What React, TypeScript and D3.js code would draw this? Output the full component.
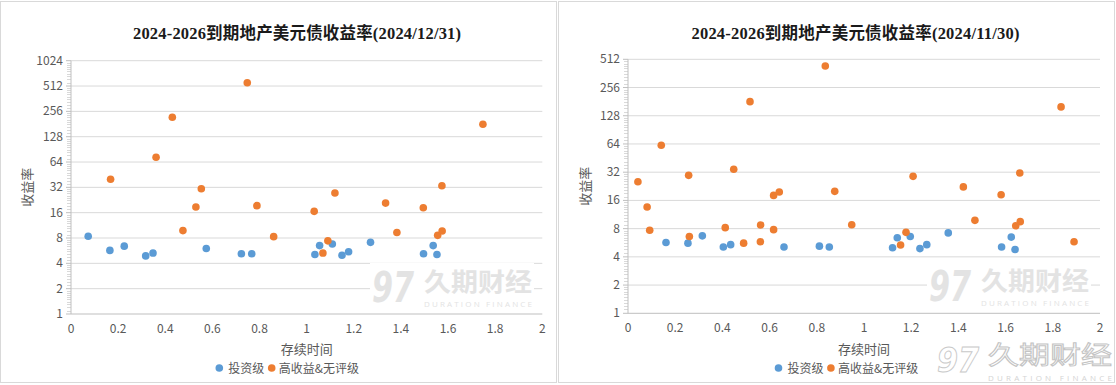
import React from "react";
import * as d3 from "d3";

// ---------- data ----------
const xTicks = [0, 0.2, 0.4, 0.6, 0.8, 1, 1.2, 1.4, 1.6, 1.8, 2];
const decYTicks = [1, 2, 4, 8, 16, 32, 64, 128, 256, 512, 1024];
const novYTicks = [1, 2, 4, 8, 16, 32, 64, 128, 256, 512];

const seriesNames = ["投资级", "高收益&无评级"];
const decTitle = "2024-2026到期地产美元债收益率(2024/12/31)";
const novTitle = "2024-2026到期地产美元债收益率(2024/11/30)";

// 2024/12/31
const decIGX = [0.073, 0.165, 0.226, 0.317, 0.348, 0.574, 0.723, 0.767, 1.035, 1.055, 1.109, 1.15, 1.178, 1.271, 1.496, 1.537, 1.553];
const decIGY = [8.4, 5.7, 6.4, 4.9, 5.3, 6.0, 5.2, 5.2, 5.1, 6.5, 6.8, 5.0, 5.5, 7.1, 5.2, 6.5, 5.1];
const decHYX = [0.168, 0.361, 0.43, 0.475, 0.53, 0.553, 0.748, 0.789, 0.86, 1.032, 1.069, 1.09, 1.12, 1.335, 1.383, 1.495, 1.556, 1.575, 1.574, 1.748];
const decHYY = [40, 73, 218, 9.8, 18.7, 30.8, 560, 19.4, 8.3, 16.6, 5.3, 7.4, 27.4, 20.8, 9.3, 18.3, 8.6, 9.7, 33.5, 180];

// 2024/11/30
const novIGX = [0.161, 0.254, 0.315, 0.404, 0.435, 0.661, 0.811, 0.853, 1.121, 1.141, 1.196, 1.237, 1.266, 1.357, 1.583, 1.624, 1.64];
const novIGY = [5.7, 5.6, 6.7, 5.1, 5.4, 5.1, 5.2, 5.1, 5.0, 6.4, 6.6, 4.9, 5.4, 7.2, 5.1, 6.5, 4.8];
const novHYX = [0.042, 0.081, 0.092, 0.141, 0.257, 0.26, 0.412, 0.448, 0.49, 0.517, 0.562, 0.561, 0.617, 0.617, 0.641, 0.836, 0.876, 0.948, 1.155, 1.178, 1.208, 1.421, 1.47, 1.581, 1.643, 1.662, 1.66, 1.835, 1.89];
const novHYY = [25.3, 13.6, 7.7, 62, 29.6, 6.6, 8.2, 34.4, 5.6, 181, 8.75, 5.8, 7.8, 18.1, 19.7, 435, 20, 8.8, 5.35, 7.3, 28.9, 22.3, 9.8, 18.4, 8.6, 9.5, 31.4, 159, 5.8];

// ---------- style ----------
const BLUE = "#5B9BD5";
const ORANGE = "#ED7D31";
const GRID = "#d9d9d9";
const AXIS = "#bfbfbf";
const LABEL = "#595959";
const FONT = '"Noto Sans CJK SC", "Open Sans", sans-serif';
const TITLE_FONT = '"Liberation Serif", "Noto Sans CJK SC", serif';

type Geom = {
  bx: number; bw: number;
  x0: number; x1: number; yTop: number; yBot: number;
  titleCx: number; yTitleX: number; legendX: number;
};

function Watermark({ x, y }: { x: number; y: number }) {
  const fill = "#e3e3e3";
  return (
    <g>
      <rect x={x - 2} y={y - 3} width={164} height={46} fill="#ffffff" />
      <text x={x} y={y + 36} fontFamily='"DejaVu Sans", sans-serif' fontStyle="italic" fontWeight="bold"
        fontSize={42} fill={fill} textLength={42} lengthAdjust="spacingAndGlyphs">97</text>
      <text x={x + 52} y={y + 25} fontFamily={FONT} fontWeight="bold" fontSize={25} fill={fill}
        textLength={108} lengthAdjust="spacingAndGlyphs">久期财经</text>
      <text x={x + 52} y={y + 41} fontFamily='"Open Sans", sans-serif' fontSize={8} fill={fill}
        textLength={108} lengthAdjust="spacing">DURATION FINANCE</text>
    </g>
  );
}

function CornerWatermark() {
  return (
    <g>
      <text x={937} y={372} fontFamily='"DejaVu Sans", sans-serif' fontStyle="italic" fontWeight="bold"
        fontSize={34} fill="#fff" stroke="#c9c9c9" strokeWidth={1} textLength={42} lengthAdjust="spacingAndGlyphs">97</text>
      <text x={988} y={364} fontFamily={FONT} fontSize={25} fill="#fff" stroke="#c4c4c4" strokeWidth={1}
        textLength={124} lengthAdjust="spacingAndGlyphs">久期财经</text>
      <text x={988} y={381} fontFamily='"Open Sans", sans-serif' fontSize={8} fill="#d4d4d4"
        textLength={124} lengthAdjust="spacing">DURATION FINANCE</text>
    </g>
  );
}

function Panel({ g, title, yTicks, igX, igY, hyX, hyY }: {
  g: Geom; title: string; yTicks: number[];
  igX: number[]; igY: number[]; hyX: number[]; hyY: number[];
}) {
  const yMax = yTicks[yTicks.length - 1];
  const x = d3.scaleLinear().domain([0, 2]).range([g.x0, g.x1]);
  const y = d3.scaleLog().base(2).domain([1, yMax]).range([g.yBot, g.yTop]);
  const minor: number[] = [];
  for (let i = 0; i < yTicks.length - 1; i++) {
    const v = yTicks[i];
    for (let k = 1; k < 10; k++) minor.push(v * (1 + k / 10));
  }
  const ig = igX.map((d, i) => [d, igY[i]]);
  const hy = hyX.map((d, i) => [d, hyY[i]]);
  const r = 3.8;
  return (
    <g>
      <rect x={g.bx + 0.5} y={1.5} width={g.bw} height={381} fill="#fff" stroke={GRID} />
      <text x={g.titleCx} y={39} textAnchor="middle" fontFamily={TITLE_FONT} fontWeight="bold"
        fontSize={16.5} fill="#1a1a1a" textLength={328} lengthAdjust="spacing">{title}</text>
      {yTicks.slice(1).map((t) => (
        <line key={"g" + t} x1={g.x0} x2={g.x1} y1={y(t)} y2={y(t)} stroke={GRID} strokeWidth={1} />
      ))}
      {minor.map((t, i) => (
        <line key={"m" + i} x1={g.x0 - 4} x2={g.x0} y1={Math.round(y(t)) + 0.5} y2={Math.round(y(t)) + 0.5} stroke={AXIS} strokeWidth={0.6} />
      ))}
      {yTicks.map((t) => (
        <line key={"t" + t} x1={g.x0 - 5} x2={g.x0} y1={y(t)} y2={y(t)} stroke={AXIS} />
      ))}
      <line x1={g.x0} x2={g.x0} y1={g.yTop} y2={g.yBot} stroke={AXIS} />
      <line x1={g.x0} x2={g.x1} y1={g.yBot} y2={g.yBot} stroke={AXIS} />
      {yTicks.map((t) => (
        <text key={"yl" + t} x={g.x0 - 8} y={y(t) + 4} textAnchor="end" fontFamily={FONT} fontSize={12} fill={LABEL}>{t}</text>
      ))}
      {xTicks.map((t) => (
        <text key={"xl" + t} x={x(t)} y={g.yBot + 19} textAnchor="middle" fontFamily={FONT} fontSize={12} fill={LABEL}>{t}</text>
      ))}
      <Watermark x={g.x0 + 301} y={g.yBot - 48} />
      {ig.map((d, i) => (
        <circle key={"ig" + i} cx={x(d[0])} cy={y(d[1])} r={r} fill={BLUE} />
      ))}
      {hy.map((d, i) => (
        <circle key={"hy" + i} cx={x(d[0])} cy={y(d[1])} r={r} fill={ORANGE} />
      ))}
      <text x={(g.x0 + g.x1) / 2} y={354} textAnchor="middle" fontFamily={FONT} fontSize={13} fill={LABEL}>存续时间</text>
      <text transform={`translate(${g.yTitleX},${(g.yTop + g.yBot) / 2}) rotate(-90)`} textAnchor="middle"
        dy={4.5} fontFamily={FONT} fontSize={13} fill={LABEL}>收益率</text>
      <circle cx={g.legendX} cy={368} r={r} fill={BLUE} />
      <text x={g.legendX + 9} y={372.5} fontFamily={FONT} fontSize={12} fill={LABEL}>{seriesNames[0]}</text>
      <circle cx={g.legendX + 52.4} cy={368} r={r} fill={ORANGE} />
      <text x={g.legendX + 59.5} y={372.5} fontFamily={FONT} fontSize={12} fill={LABEL}>{seriesNames[1]}</text>
    </g>
  );
}

const leftGeom: Geom = { bx: 0, bw: 556, x0: 71, x1: 542.3, yTop: 60.7, yBot: 314, titleCx: 297, yTitleX: 27, legendX: 219.3 };
const rightGeom: Geom = { bx: 558, bw: 556, x0: 628, x1: 1100, yTop: 59.3, yBot: 313.3, titleCx: 855.5, yTitleX: 585, legendX: 778.5 };

export default function App() {
  return (
    <svg width={1116} height={385} style={{ position: "absolute", left: 0, top: 0, background: "#fff" }}>
      <rect width={1116} height={385} fill="#fff" />
      <Panel g={leftGeom} title={decTitle} yTicks={decYTicks} igX={decIGX} igY={decIGY} hyX={decHYX} hyY={decHYY} />
      <Panel g={rightGeom} title={novTitle} yTicks={novYTicks} igX={novIGX} igY={novIGY} hyX={novHYX} hyY={novHYY} />
      <CornerWatermark />
    </svg>
  );
}
